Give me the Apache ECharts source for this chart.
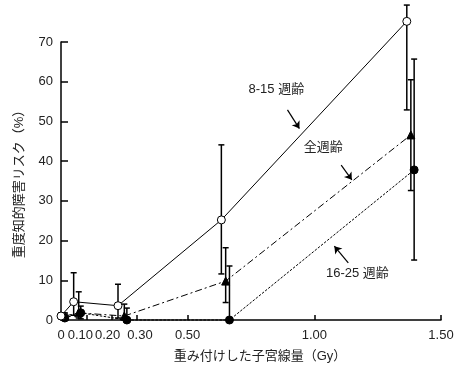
<!DOCTYPE html>
<html><head><meta charset="utf-8">
<script src="https://cdn.jsdelivr.net/npm/echarts@6/dist/echarts.min.js"></script>
<style>html,body{margin:0;padding:0;background:#fff}#c{width:459px;height:377px}</style>
</head><body><div id="c"></div>
<script>
// 8-15 weeks (open circles, solid line)
const x815 = [0.0, 0.05, 0.225, 0.633, 1.365];
const y815 = [1.0, 4.6, 3.6, 25.2, 75.2];
const lo815 = [0.3, 1.2, 0.5, 11.6, 52.9];
const hi815 = [1.8, 11.9, 9.0, 44.1, 79.3];
// all weeks (filled triangles, dash-dot)
const xAll = [0.015, 0.07, 0.25, 0.65, 1.381];
const yAll = [1.0, 1.8, 1.0, 9.8, 46.6];
const loAll = [0.2, 0.5, 0.0, 4.4, 32.6];
const hiAll = [1.8, 7.1, 4.0, 18.2, 60.5];
// 16-25 weeks (filled circles, dotted)
const x1625 = [0.015, 0.078, 0.26, 0.665, 1.394];
const y1625 = [0.5, 1.8, 0.0, 0.0, 37.8];
const lo1625 = [0.0, 0.3, 0.0, 0.0, 15.1];
const hi1625 = [1.5, 3.5, 3.0, 13.6, 65.7];

const xTicks = [0, 0.1, 0.2, 0.3, 0.5, 1.0, 1.5];
const xTickLabels = ['0', '0.10', '0.20', '0.30', '0.50', '1.00', '1.50'];
const yTicks = [0, 10, 20, 30, 40, 50, 60, 70];

// annotation positions in data space
const labels = [
  {text: '8-15 週齢', at: [0.85, 58.0]},
  {text: '全週齢', at: [1.035, 43.5]},
  {text: '16-25 週齢', at: [1.17, 11.8]}
];
const arrows = [
  [[0.894, 52.9], [0.941, 48.2]],
  [[1.106, 39.0], [1.148, 35.3]],
  [[1.134, 14.4], [1.079, 18.6]]
];

const font = '"Liberation Sans", Arial, "Noto Sans CJK JP", sans-serif';

function pts(xs, ys) { return xs.map((x, i) => [x, ys[i]]); }
function errData(xs, lo, hi) { return xs.map((x, i) => [x, lo[i], hi[i]]); }
function errSeries(xs, lo, hi) {
  return {
    type: 'custom', data: errData(xs, lo, hi), z: 1, clip: false, silent: true,
    renderItem: function (params, api) {
      const p1 = api.coord([api.value(0), api.value(1)]);
      const p2 = api.coord([api.value(0), api.value(2)]);
      const w = 3;
      const st = {stroke: '#000', lineWidth: 1.5};
      return {type: 'group', children: [
        {type: 'line', shape: {x1: p1[0], y1: p1[1], x2: p2[0], y2: p2[1]}, style: st},
        {type: 'line', shape: {x1: p2[0] - w, y1: p2[1], x2: p2[0] + w, y2: p2[1]}, style: st},
        {type: 'line', shape: {x1: p1[0] - w, y1: p1[1], x2: p1[0] + w, y2: p1[1]}, style: st}
      ]};
    }
  };
}

const labelStyles = ['n', 'l12', 'l8', 'r6', 'n', 'n', 'n'];

const chart = echarts.init(document.getElementById('c'), null, {renderer: 'canvas'});
chart.setOption({
  animation: false,
  backgroundColor: '#fff',
  textStyle: {fontFamily: font},
  grid: {left: 61, right: 18, top: 42, bottom: 57},
  xAxis: {
    type: 'value', min: 0, max: 1.5,
    name: '重み付けした子宮線量（Gy）', nameLocation: 'middle', nameGap: 30,
    nameTextStyle: {fontSize: 13, color: '#222', fontFamily: font, padding: [0, 0, 0, 18]},
    axisLine: {lineStyle: {color: '#000', width: 1.5}},
    axisTick: {inside: true, length: 5, lineStyle: {color: '#000', width: 1.5}, customValues: xTicks},
    axisLabel: {customValues: xTicks, color: '#222', fontSize: 13, margin: 9, fontFamily: font,
      rich: {
        n: {fontSize: 13, color: '#222', fontFamily: font},
        l12: {fontSize: 13, color: '#222', fontFamily: font, padding: [0, 12, 0, 0]},
        l8: {fontSize: 13, color: '#222', fontFamily: font, padding: [0, 8, 0, 0]},
        r6: {fontSize: 13, color: '#222', fontFamily: font, padding: [0, 0, 0, 6]}
      },
      formatter: v => { const i = xTicks.findIndex(t => Math.abs(t - v) < 1e-6); return i >= 0 ? '{' + labelStyles[i] + '|' + xTickLabels[i] + '}' : ''; }},
    splitLine: {show: false}
  },
  yAxis: {
    type: 'value', min: 0, max: 70, interval: 10,
    name: '重度知的障害リスク（%）', nameLocation: 'middle', nameGap: 35, nameRotate: 90,
    nameTextStyle: {fontSize: 13, color: '#222', fontFamily: font},
    axisLine: {show: true, lineStyle: {color: '#000', width: 1.5}},
    axisTick: {show: true, inside: true, length: 7, lineStyle: {color: '#000', width: 1.5}},
    axisLabel: {color: '#222', fontSize: 13, margin: 8, fontFamily: font},
    splitLine: {show: false}
  },
  series: [
    errSeries(x815, lo815, hi815),
    errSeries(xAll, loAll, hiAll),
    errSeries(x1625, lo1625, hi1625),
    {
      type: 'line', data: pts(x1625, y1625), clip: false, z: 3,
      symbol: 'circle', symbolSize: 8,
      itemStyle: {color: '#000', borderColor: '#000'},
      lineStyle: {color: '#000', width: 1, type: [2.5, 1.5]}
    },
    {
      type: 'line', data: pts(xAll, yAll), clip: false, z: 4,
      symbol: 'triangle', symbolSize: 8,
      itemStyle: {color: '#000', borderColor: '#000'},
      lineStyle: {color: '#000', width: 1, type: [7, 3, 2, 3]}
    },
    {
      type: 'line', data: pts(x815, y815), clip: false, z: 5,
      symbol: 'circle', symbolSize: 8,
      itemStyle: {color: '#fff', borderColor: '#000', borderWidth: 1},
      lineStyle: {color: '#000', width: 1},
      markLine: {
        silent: true, animation: false, symbol: ['none', 'arrow'], symbolSize: 7,
        lineStyle: {color: '#000', width: 1.2, type: 'solid'},
        label: {show: false},
        data: arrows.map(a => [{coord: a[0]}, {coord: a[1]}])
      },
      markPoint: {
        silent: true, symbol: 'circle', symbolSize: 0,
        label: {show: true, color: '#222', fontSize: 13, fontFamily: font, formatter: p => p.name},
        data: labels.map(l => ({name: l.text, coord: l.at}))
      }
    }
  ]
});
</script></body></html>
